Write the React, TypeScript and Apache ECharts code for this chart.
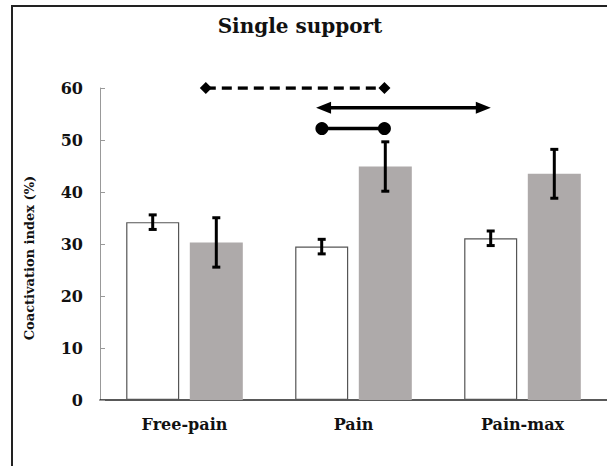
import React, { useEffect, useRef } from "react";
import * as echarts from "echarts";

const categories = ["Free-pain", "Pain", "Pain-max"];
const whiteValues = [34.2, 29.5, 31.1];
const whiteErrors = [1.4, 1.4, 1.4];
const grayValues = [30.3, 44.9, 43.5];
const grayErrors = [4.75, 4.75, 4.7];
const yTicks = { min: 0, max: 60, interval: 10 };

// significance markers, x in category units (0..3), y in %
const sigDashed = [[0.626, 60], [1.683, 60]];
const sigArrow = [[1.323, 56.2], [2.268, 56.2]];
const sigCircle = [[1.313, 52.2], [1.683, 52.2]];

const FONT = "DejaVu Serif";
const CAT_GAP = 0.31;
const BAR_GAP = 0.2;

function errorRenderer(side: number) {
  return (params: any, api: any) => {
    const idx = api.value(0);
    const v = api.value(1);
    const e = api.value(2);
    const top = api.coord([idx, v + e]);
    const bot = api.coord([idx, v - e]);
    const band = api.size([1, 0])[0];
    const barW = (band * (1 - CAT_GAP)) / (2 + BAR_GAP);
    const x = top[0] + side * barW * (1 + BAR_GAP) / 2;
    const cap = 4;
    const style = { stroke: "#000", lineWidth: 3 };
    return {
      type: "group",
      children: [
        { type: "line", shape: { x1: x, y1: top[1], x2: x, y2: bot[1] }, style },
        { type: "line", shape: { x1: x - cap, y1: top[1], x2: x + cap, y2: top[1] }, style },
        { type: "line", shape: { x1: x - cap, y1: bot[1], x2: x + cap, y2: bot[1] }, style },
      ],
    };
  };
}

export default function App() {
  const ref = useRef<HTMLDivElement>(null);
  useEffect(() => {
    document.body.style.margin = "0";
    const chart = echarts.init(ref.current!, null, { renderer: "svg" });
    chart.setOption({
      animation: false,
      backgroundColor: "#fff",
      title: {
        text: "Single support",
        left: 295,
        top: 11,
        textAlign: "center",
        textStyle: { fontFamily: FONT, fontWeight: "bold", fontSize: 20, color: "#111" },
      },
      graphic: [
        {
          type: "rect",
          shape: { x: 12, y: 6, width: 700, height: 700 },
          style: { fill: "none", stroke: "#222", lineWidth: 2 },
          silent: true,
        },
      ],
      grid: { left: 100, top: 88, width: 508, height: 312 },
      xAxis: [
        {
          type: "category",
          data: categories,
          axisLine: { lineStyle: { color: "#222", width: 1.5 } },
          axisTick: { show: false },
          axisLabel: {
            margin: 16,
            fontFamily: FONT,
            fontWeight: "bold",
            fontSize: 16,
            color: "#111",
          },
        },
        { type: "value", min: 0, max: 3, show: false },
      ],
      yAxis: {
        type: "value",
        min: yTicks.min,
        max: yTicks.max,
        interval: yTicks.interval,
        axisLine: { show: true, lineStyle: { color: "#999", width: 1 } },
        axisTick: { show: true, inside: true, length: 5, lineStyle: { color: "#999" } },
        splitLine: { show: false },
        axisLabel: {
          margin: 17,
          fontFamily: FONT,
          fontWeight: "bold",
          fontSize: 16,
          color: "#111",
        },
        name: "Coactivation index (%)",
        nameLocation: "middle",
        nameGap: 64,
        nameTextStyle: {
          fontFamily: FONT,
          fontWeight: "bold",
          fontSize: 13,
          color: "#111",
          padding: [0, 28, 0, 0],
        },
      },
      series: [
        {
          name: "Series 1",
          type: "bar",
          data: whiteValues,
          barCategoryGap: "31%",
          barGap: "20%",
          itemStyle: { color: "#fff", borderColor: "#555", borderWidth: 1.2 },
        },
        {
          name: "Series 2",
          type: "bar",
          data: grayValues,
          itemStyle: { color: "#aeaaaa" },
        },
        {
          type: "custom",
          z: 5,
          renderItem: errorRenderer(-1),
          encode: { x: 0, y: 1 },
          data: whiteValues.map((v, i) => [i, v, whiteErrors[i]]),
        },
        {
          type: "custom",
          z: 5,
          renderItem: errorRenderer(1),
          encode: { x: 0, y: 1 },
          data: grayValues.map((v, i) => [i, v, grayErrors[i]]),
        },
        {
          type: "line",
          xAxisIndex: 1,
          z: 6,
          data: sigDashed,
          symbol: "diamond",
          symbolSize: 12,
          showSymbol: true,
          itemStyle: { color: "#000" },
          lineStyle: { color: "#000", width: 3.5, type: [10, 6] },
        },
        {
          type: "line",
          xAxisIndex: 1,
          z: 6,
          data: sigArrow.map((p, i) => ({ value: p, symbolRotate: i === 0 ? 90 : -90 })),
          symbol: "triangle",
          symbolSize: [12, 15],
          itemStyle: { color: "#000" },
          lineStyle: { color: "#000", width: 3.5 },
        },
        {
          type: "line",
          xAxisIndex: 1,
          z: 6,
          data: sigCircle,
          symbol: "circle",
          symbolSize: 13,
          itemStyle: { color: "#000" },
          lineStyle: { color: "#000", width: 3.5 },
        },
      ],
    });
    return () => chart.dispose();
  }, []);
  return <div ref={ref} style={{ width: 607, height: 466 }} />;
}
